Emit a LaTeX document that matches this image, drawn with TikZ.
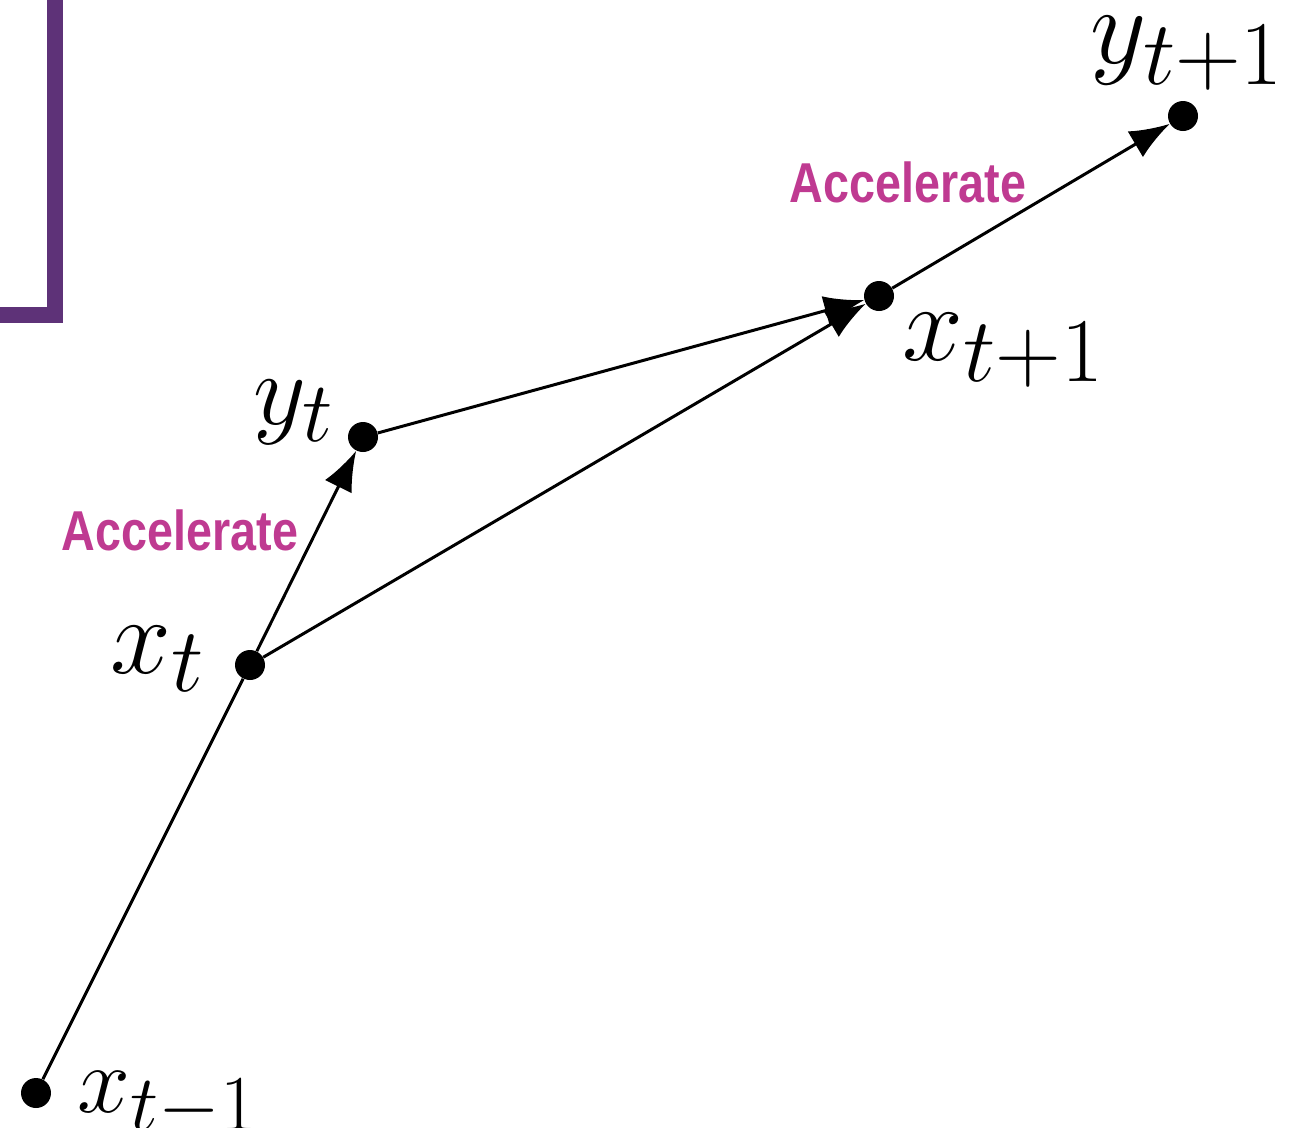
\documentclass[tikz,border=0pt]{standalone}
\usepackage{fontspec}
\newfontfamily\labelfont[FakeStretch=0.83]{Liberation Sans Bold}
\usetikzlibrary{arrows.meta,positioning}
\definecolor{accel}{RGB}{191,58,145}
\definecolor{bracket}{RGB}{94,50,120}

\begin{document}
\begin{tikzpicture}[
  x=0.02cm,
  y=-0.02cm,
  >={Latex[length=0.8cm,width=0.6cm]},
  point/.style={
    circle,
    fill=black,
    inner sep=0pt,
    minimum size=0.6cm
  },
  var/.style={
    inner sep=0pt,
    scale=2.5,
    font=\fontsize{24.88}{30}\selectfont
  },
  accel/.style={
    text=accel,
    inner sep=0pt,
    font=\fontsize{32}{36}\labelfont
  },
  link/.style={line width=1.7pt}
]
  \useasboundingbox (0,0) rectangle (1291,1127);

  % purple bracket at the top left
  \draw[bracket,line width=0.32cm] (55,-20) -- (55,314.5) -- (-20,314.5);

  \node[point] (xprev) at (36,1093) {};
  \node[point] (xt) at (250,665) {};
  \node[point] (yt) at (363,437) {};
  \node[point] (xnext) at (879,296) {};
  \node[point] (ynext) at (1183,116) {};

  \draw[link] (xprev) -- (xt);
  \draw[link,->] (xt) -- (yt);
  \draw[link,->] (yt) -- (xnext);
  \draw[link,->] (xt) -- (xnext);
  \draw[link,->] (xnext) -- (ynext);

  \node[var,scale=0.87,anchor=base west] (lxprev) at (77,1112) {$x_{t-1}$};
  \node[var,anchor=base west] (lxt) at (110,673) {$x_t$};
  \node[var,scale=0.94,anchor=base west] (lyt) at (253,424) {$y_t$};
  \node[var,anchor=base west] (lxnext) at (902,360) {$x_{t+1}$};
  \node[var,anchor=base west] (lynext) at (1090,63) {$y_{t+1}$};

  \node[accel] (acc1) at (180,530) {Accelerate};
  \node[accel] (acc2) at (908,182) {Accelerate};
\end{tikzpicture}
\end{document}
